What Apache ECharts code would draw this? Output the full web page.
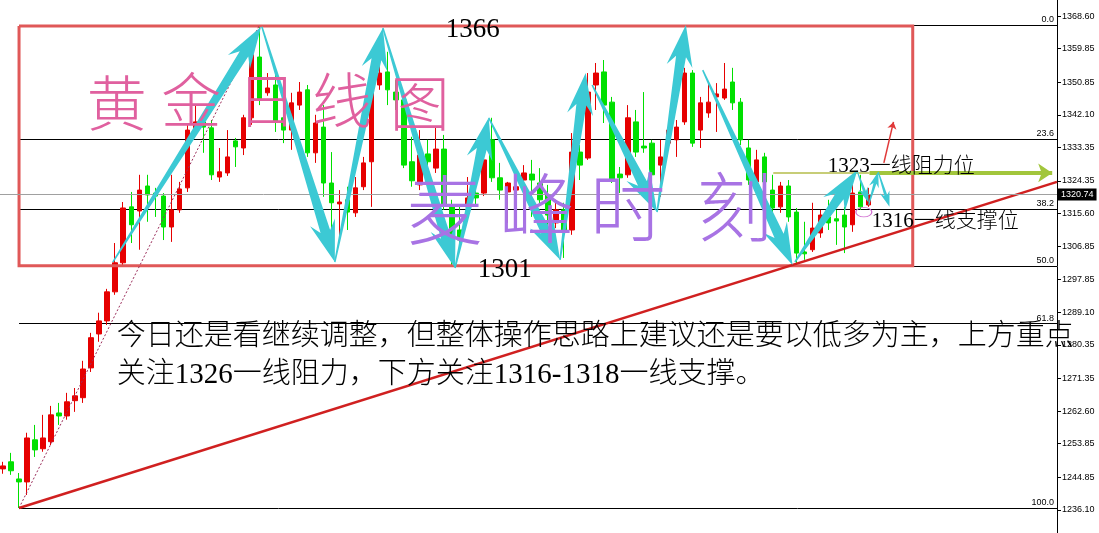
<!DOCTYPE html>
<html><head><meta charset="utf-8">
<script src="https://cdn.jsdelivr.net/npm/echarts@6/dist/echarts.min.js"></script>
<style>html,body{margin:0;padding:0;background:#fff}#c{width:1099px;height:533px}</style>
</head><body><div id="c"></div>
<script>
// ---- data ----
const slotCount = 132;
const categories = Array.from({length: slotCount}, (_, i) => String(i + 1));
// [open, close, low, high]
const candles = [
[1247.1,1247.9,1245.8,1249.0],[1249.0,1246.6,1245.5,1251.4],[1244.4,1243.6,1236.6,1246.0],[1243.6,1255.4,1240.1,1256.8],
[1254.9,1252.2,1250.3,1258.9],[1252.5,1255.4,1251.7,1261.6],[1254.4,1261.6,1253.5,1264.0],[1262.1,1261.3,1258.9,1264.8],
[1261.3,1265.1,1260.3,1267.5],[1265.4,1266.7,1262.4,1268.8],[1266.2,1273.9,1264.8,1276.1],[1274.2,1282.3,1273.1,1283.6],
[1283.3,1286.8,1281.2,1289.0],[1286.8,1294.6,1285.7,1295.4],[1294.6,1302.4,1293.8,1307.7],[1302.4,1317.1,1301.6,1318.7],
[1317.4,1312.6,1307.7,1321.4],[1316.3,1321.9,1305.9,1326.0],[1323.0,1320.6,1313.4,1326.0],[1321.1,1320.3,1314.7,1322.5],
[1320.3,1312.0,1308.5,1321.1],[1312.0,1316.6,1308.0,1326.0],[1316.6,1322.2,1315.8,1324.1],[1322.5,1338.0,1321.4,1339.4],
[1338.0,1340.2,1337.2,1344.7],[1340.2,1338.8,1331.9,1342.1],[1338.6,1326.0,1324.6,1340.7],[1325.4,1326.8,1324.1,1333.2],
[1326.5,1330.8,1325.7,1338.0],[1335.1,1333.5,1328.1,1335.9],[1333.2,1341.3,1331.3,1342.1],[1341.3,1358.2,1339.4,1359.5],
[1357.6,1346.1,1344.7,1366.2],[1348.0,1349.3,1347.2,1353.3],[1350.1,1340.2,1337.5,1354.9],[1341.3,1338.0,1334.5,1344.2],
[1338.0,1345.3,1332.7,1348.0],[1344.7,1348.2,1343.4,1350.9],[1348.8,1331.9,1330.8,1350.1],[1331.9,1339.9,1329.2,1342.1],
[1338.8,1323.8,1320.1,1344.7],[1323.8,1318.5,1311.2,1332.1],[1318.2,1318.7,1307.7,1321.9],[1319.3,1316.0,1311.2,1322.8],
[1315.8,1322.5,1314.7,1325.4],[1322.8,1329.2,1321.9,1330.8],[1329.5,1350.1,1317.4,1353.3],[1350.1,1353.3,1348.8,1358.2],
[1353.6,1348.8,1344.7,1359.0],[1348.2,1346.1,1343.4,1351.4],[1346.1,1328.6,1327.8,1346.9],[1329.5,1324.4,1322.8,1336.2],
[1323.3,1331.3,1321.9,1338.0],[1331.6,1329.5,1327.3,1335.4],[1327.8,1332.9,1326.5,1338.8],[1332.9,1317.9,1316.6,1336.7],
[1317.9,1309.9,1301.6,1319.3],[1311.2,1308.5,1306.7,1317.4],[1317.4,1319.8,1316.0,1325.4],[1321.1,1319.8,1317.9,1324.6],
[1321.1,1330.0,1320.3,1332.7],[1335.4,1325.2,1324.1,1341.3],[1325.2,1321.9,1319.3,1329.2],[1321.4,1323.8,1313.1,1324.1],
[1321.9,1322.8,1315.8,1324.1],[1324.6,1326.5,1313.1,1328.6],[1326.2,1324.6,1314.7,1330.0],[1323.8,1319.3,1317.9,1327.8],
[1320.6,1315.2,1312.6,1323.3],[1313.1,1316.6,1311.7,1319.3],[1316.6,1311.2,1303.7,1318.5],[1311.2,1332.1,1309.9,1337.2],
[1332.1,1328.6,1324.6,1334.0],[1330.5,1348.2,1330.0,1353.3],[1350.1,1353.3,1343.4,1356.0],[1353.6,1344.7,1339.9,1356.8],
[1345.5,1324.6,1323.8,1346.9],[1326.2,1325.2,1321.1,1328.1],[1326.0,1341.3,1325.2,1344.7],[1340.2,1332.1,1330.8,1343.4],
[1333.7,1333.2,1331.9,1348.2],[1334.5,1326.0,1325.4,1335.4],[1328.6,1330.8,1320.1,1335.4],[1334.5,1338.0,1332.7,1338.6],
[1335.4,1338.8,1330.8,1340.7],[1340.2,1353.3,1339.4,1354.7],[1353.3,1334.5,1333.5,1354.1],[1338.0,1345.3,1333.2,1346.9],
[1342.6,1345.5,1341.3,1350.6],[1346.9,1347.7,1337.5,1350.6],[1346.6,1349.0,1346.1,1356.0],[1350.9,1345.3,1343.4,1354.7],
[1345.5,1335.4,1334.0,1346.6],[1333.2,1324.6,1323.3,1335.4],[1324.1,1330.0,1321.9,1332.7],[1330.8,1324.1,1323.3,1331.9],
[1321.9,1317.1,1315.2,1326.0],[1317.4,1323.0,1315.8,1324.1],[1323.0,1314.7,1313.4,1324.6],[1316.0,1305.0,1302.1,1317.1],
[1305.3,1304.8,1303.2,1313.4],[1305.9,1311.7,1305.3,1318.5],[1310.4,1315.2,1309.1,1316.6],[1314.7,1313.1,1311.2,1319.3],
[1314.2,1313.6,1307.2,1316.6],[1315.2,1312.0,1305.0,1317.4],[1312.6,1321.1,1310.7,1323.3],[1321.4,1317.4,1316.6,1326.0],
[1317.9,1320.7,1317.4,1322.5]
];
const yTicks = [1368.60,1359.85,1350.85,1342.10,1333.35,1324.35,1315.60,1306.85,1297.85,1289.10,1280.35,1271.35,1262.60,1253.85,1244.85,1236.10];
const yMin = 1229.9, yMax = 1372.9;
const lastPrice = 1320.74;
const fibNames = ['0.0','23.6','38.2','50.0','61.8','100.0'];
const fibPrices = [1366.2,1335.6,1316.7,1301.4,1286.1,1236.6];
const fibStartX = 2, rightEndX = 131.5;
const boxXs = [2, 113.5];
const boxYs = [1365.9, 1301.6];
const trendLine = [[2,1236.6],[131.5,1324.1]];
const fibTrend = [[2,1236.6],[32,1366.2]];
const resistThin = [[96.1,1326.5],[108.1,1326.5]];
const resistArrow = [[108.1,1326.5],[130.9,1326.5]];
const bigArrows = [
[13.7,1302.6,32.2,1365.7],[32.3,1365.7,41.4,1302.6],[41.4,1302.6,47.4,1365.4],[47.4,1365.4,56.4,1301.0],
[56.4,1301.0,60.6,1341.3],[60.6,1341.3,69.5,1303.2],[69.5,1303.2,72.7,1353.3],[73.5,1350.1,81.6,1316.0],
[81.6,1316.0,85.2,1366.2],[87.3,1354.1,98.5,1301.8],[98.8,1302.6,106.6,1327.3]
];
const smallArrows = [[106.6,1326.8,108.0,1318.5],[108.0,1317.9,109.2,1326.8],[109.2,1326.8,110.6,1317.4]];
const redArrow = [[109.9,1329.2],[111.1,1340.2]];
const circleMark = [[107.4,1316.0]];
const noteTexts = ['1366','1301','1323一线阻力位','1316一线支撑位',
  '今日还是看继续调整，但整体操作思路上建议还是要以低多为主，上方重点',
  '关注1326一线阻力，下方关注1316-1318一线支撑。'];
const noteX = [58.6, 62.6, 102.9, 108.4, 14.2, 14.2];
const noteY = [1364.9, 1300.5, 1328.1, 1313.6, 1282.4, 1272.3];
const brushChars = ['黄','金','日','线','图','麦','峰','时','刻'];
const brushX = [14.2, 23.5, 32.9, 42.3, 52.0, 55.1, 66.6, 77.9, 91.3];
const brushY = [1345.3, 1346.1, 1346.1, 1346.1, 1345.3, 1316.6, 1317.1, 1317.4, 1317.4];

// ---- styles ----
const UP = '#e60000', DOWN = '#00e000', CYAN = '#3cc9d4';
const noteStyle = [
  {size:27, align:'center'}, {size:27, align:'center'},
  {size:21, align:'left'}, {size:21, align:'left'},
  {size:29, align:'left'}, {size:29, align:'left'}
];
const serifCJK = '"Liberation Serif","Noto Sans CJK SC",serif';

function arrowPts(a, b, tail, shaft, head, len) {
  const dx = b[0]-a[0], dy = b[1]-a[1];
  const L = Math.sqrt(dx*dx+dy*dy) || 1;
  const ux = dx/L, uy = dy/L, nx = -uy, ny = ux;
  const bx = b[0]-ux*len, by = b[1]-uy*len;
  const bk = len*0.3;
  return [
    [a[0]+nx*tail/2, a[1]+ny*tail/2],
    [bx+nx*shaft/2, by+ny*shaft/2],
    [bx-ux*bk+nx*head/2, by-uy*bk+ny*head/2],
    [b[0], b[1]],
    [bx-ux*bk-nx*head/2, by-uy*bk-ny*head/2],
    [bx-nx*shaft/2, by-ny*shaft/2],
    [a[0]-nx*tail/2, a[1]-ny*tail/2]
  ];
}
function arrowSeries(data, tail, shaft, head, len) {
  return {
    type:'custom', coordinateSystem:'cartesian2d', xAxisIndex:1, yAxisIndex:0,
    data:data, clip:false, silent:true, z:6,
    renderItem:function(params, api){
      const a = api.coord([api.value(0), api.value(1)]);
      const b = api.coord([api.value(2), api.value(3)]);
      return {type:'polygon', shape:{points:arrowPts(a,b,tail,shaft,head,len)}, style:{fill:CYAN}};
    }
  };
}

const chart = echarts.init(document.getElementById('c'), null, {renderer:'canvas'});
chart.setOption({
  animation:false,
  backgroundColor:'#ffffff',
  grid:{left:-1, right:42, top:0, bottom:0, containLabel:false, outerBoundsMode:'none'},
  xAxis:[
    {type:'category', data:categories, show:false, boundaryGap:true},
    {type:'value', min:-0.5, max:slotCount-0.5, show:false}
  ],
  yAxis:{
    type:'value', position:'right', min:yMin, max:yMax, scale:true,
    axisLine:{show:true, onZero:false, lineStyle:{color:'#000', width:1}},
    axisTick:{show:true, inside:false, length:4, lineStyle:{color:'#000'}, customValues:yTicks},
    axisLabel:{show:true, color:'#000', fontSize:9, fontFamily:'"Liberation Sans",Arial,sans-serif', margin:5,
      customValues:yTicks, formatter:function(v){return v.toFixed(2);}},
    splitLine:{show:false}
  },
  series:[
    {
      type:'lines', coordinateSystem:'cartesian2d', xAxisIndex:1, yAxisIndex:0, silent:true, z:1,
      data:fibPrices.map(function(p,i){return {name:fibNames[i], coords:[[fibStartX,p],[rightEndX,p]]};}),
      lineStyle:{color:'#000', width:1, opacity:1},
      label:{show:true, position:'insideEndTop', distance:[3,1], color:'#000', fontSize:9,
        fontFamily:'"Liberation Sans",Arial,sans-serif', formatter:function(p){return fibNames[p.dataIndex];}}
    },
    {
      type:'candlestick', xAxisIndex:0, yAxisIndex:0, data:candles, barWidth:5, z:2, silent:true,
      itemStyle:{color:UP, color0:DOWN, borderColor:UP, borderColor0:DOWN, borderWidth:1},
      markLine:{
        silent:true, symbol:['none','none'], animation:false,
        lineStyle:{color:'#a0a0a0', width:1, type:'solid'},
        label:{show:true, position:'end', distance:1, formatter:function(){return lastPrice.toFixed(2);},
          backgroundColor:'#000', color:'#fff', fontSize:9, padding:[2,3,1,3],
          fontFamily:'"Liberation Sans",Arial,sans-serif'},
        data:[{yAxis:lastPrice}]
      }
    },
    {
      type:'lines', coordinateSystem:'cartesian2d', xAxisIndex:1, yAxisIndex:0, silent:true, z:3,
      polyline:true,
      data:[{coords:[[boxXs[0],boxYs[0]],[boxXs[1],boxYs[0]],[boxXs[1],boxYs[1]],[boxXs[0],boxYs[1]],[boxXs[0],boxYs[0]]]}],
      lineStyle:{color:'#e05858', width:3, opacity:1}
    },
    {
      type:'lines', coordinateSystem:'cartesian2d', xAxisIndex:1, yAxisIndex:0, silent:true, z:3,
      data:[{coords:fibTrend}],
      lineStyle:{color:'#9b2d5a', width:1, type:[2,2], opacity:1}
    },
    {
      type:'lines', coordinateSystem:'cartesian2d', xAxisIndex:1, yAxisIndex:0, silent:true, z:4,
      data:[{coords:trendLine}],
      lineStyle:{color:'#d02020', width:2.5, opacity:1}
    },
    {
      type:'lines', coordinateSystem:'cartesian2d', xAxisIndex:1, yAxisIndex:0, silent:true, z:4,
      data:[{coords:resistThin}],
      lineStyle:{color:'#b4bc4a', width:1.5, opacity:1}
    },
    {
      type:'lines', coordinateSystem:'cartesian2d', xAxisIndex:1, yAxisIndex:0, silent:true, z:4,
      symbol:['none','arrow'], symbolSize:14,
      data:[{coords:resistArrow}],
      lineStyle:{color:'#a2c63c', width:4, opacity:1}
    },
    {
      type:'lines', coordinateSystem:'cartesian2d', xAxisIndex:1, yAxisIndex:0, silent:true, z:6,
      symbol:['none','arrow'], symbolSize:7,
      data:[{coords:redArrow}],
      lineStyle:{color:'#e03838', width:1.5, opacity:1}
    },
    arrowSeries(bigArrows, 1.5, 10, 26, 32),
    arrowSeries(smallArrows, 1, 3, 10, 12),
    {
      type:'custom', coordinateSystem:'cartesian2d', xAxisIndex:1, yAxisIndex:0, data:circleMark, clip:false, silent:true, z:6,
      renderItem:function(params, api){
        const p = api.coord([api.value(0), api.value(1)]);
        return {type:'circle', x:p[0], y:p[1], scaleY:0.6, shape:{cx:0, cy:0, r:8},
          style:{fill:'none', stroke:'#d070d0', lineWidth:1.3}};
      }
    },
    {
      type:'custom', coordinateSystem:'cartesian2d', xAxisIndex:1, yAxisIndex:0, clip:false, silent:true, z:7,
      data:brushX.map(function(x,i){return [x, brushY[i]];}),
      renderItem:function(params, api){
        const i = params.dataIndex;
        const p = api.coord([api.value(0), api.value(1)]);
        const pink = i < 5;
        return {type:'text', x:p[0], y:p[1], style:{text:brushChars[i], fill: pink ? '#e0609f' : '#a873e4',
          fontSize: pink ? 60 : 76, fontWeight:300, fontFamily:'"Noto Sans CJK SC",sans-serif',
          align:'center', verticalAlign:'middle'}};
      }
    },
    {
      type:'custom', coordinateSystem:'cartesian2d', xAxisIndex:1, yAxisIndex:0, clip:false, silent:true, z:8,
      data:noteX.map(function(x,i){return [x, noteY[i]];}),
      renderItem:function(params, api){
        const i = params.dataIndex;
        const p = api.coord([api.value(0), api.value(1)]);
        const s = noteStyle[i];
        return {type:'text', x:p[0], y:p[1], style:{text:noteTexts[i], fill:'#000', fontSize:s.size,
          fontWeight:300, fontFamily:serifCJK, align:s.align, verticalAlign:'middle'}};
      }
    }
  ]
});
</script></body></html>
